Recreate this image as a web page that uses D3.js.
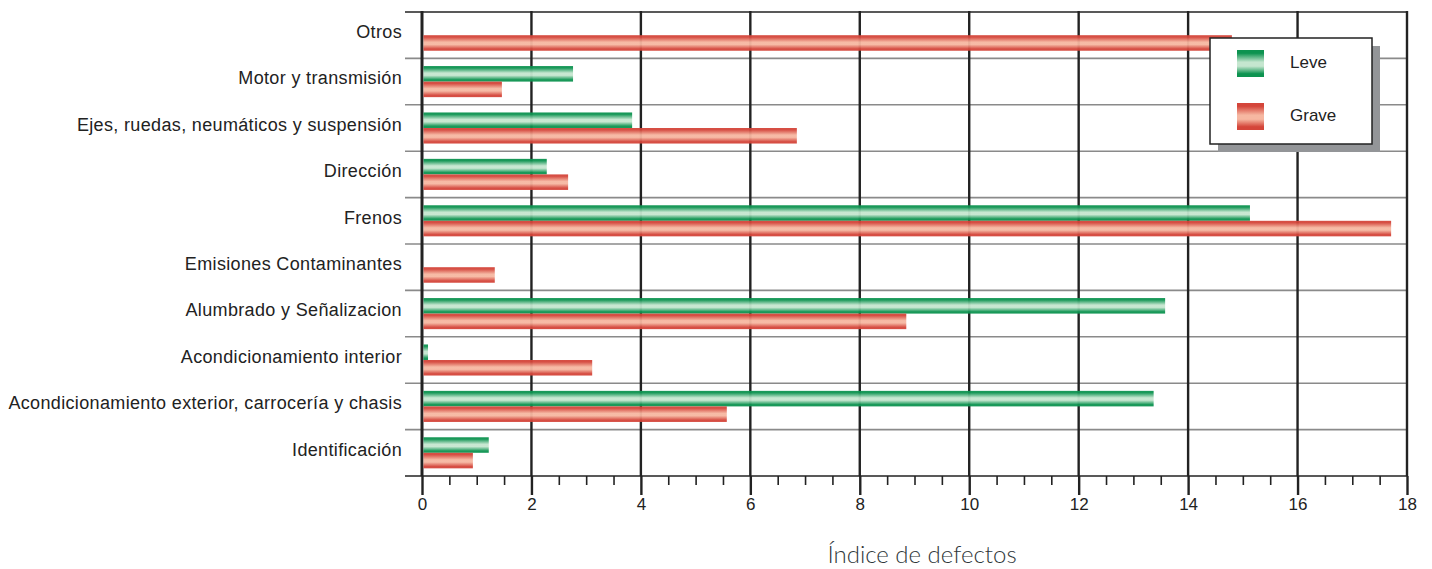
<!DOCTYPE html>
<html><head><meta charset="utf-8">
<script src="https://cdn.jsdelivr.net/npm/d3@7"></script>
<style>
body{margin:0;background:#fff;}
svg{display:block;}
.sans{font-family:"Liberation Sans", Arial, Helvetica, sans-serif;}
</style></head>
<body>
<svg id="chart" width="1432" height="569"></svg>
<script>
const categories = ["Otros","Motor y transmisión","Ejes, ruedas, neumáticos y suspensión","Dirección","Frenos","Emisiones Contaminantes","Alumbrado y Señalizacion","Acondicionamiento interior","Acondicionamiento exterior, carrocería y chasis","Identificación"];
const leve  = [0, 2.76, 3.84, 2.28, 15.13, 0, 13.58, 0.11, 13.37, 1.22];
const grave = [14.8, 1.46, 6.85, 2.67, 17.71, 1.33, 8.85, 3.11, 5.57, 0.93];
const seriesNames = ["Leve","Grave"];
const xTicks = [0,2,4,6,8,10,12,14,16,18];
const axisTitle = "Índice de defectos";

const svg = d3.select("#chart");
const x = d3.scaleLinear().domain([0,18]).range([422,1407]);
const y = d3.scaleBand().domain(categories).range([12,476]).paddingInner(0);
const barH = y.bandwidth()*0.335;

const defs = svg.append("defs");
function grad(id, edge, mid){
  const g = defs.append("linearGradient").attr("id",id).attr("x1",0).attr("y1",0).attr("x2",0).attr("y2",1);
  [[0,edge],[0.12,edge],[0.45,mid],[0.6,mid],[0.88,edge],[1,edge]].forEach(([o,c])=>g.append("stop").attr("offset",o).attr("stop-color",c));
}
grad("gGreen","#0d9350","#c5e6cf");
grad("gRed","#d4453a","#f6b7a1");

const seps = d3.range(categories.length).slice(1).map(i=>y(categories[i]));
svg.append("g").selectAll("line").data(seps).join("line")
  .attr("x1",405).attr("x2",1407).attr("y1",d=>d).attr("y2",d=>d)
  .attr("stroke","#8a8a8a").attr("stroke-width",1.6);
svg.append("line").attr("x1",405).attr("x2",1407).attr("y1",12).attr("y2",12).attr("stroke","#222").attr("stroke-width",1.6);

svg.append("g").selectAll("line").data(xTicks).join("line")
  .attr("x1",d=>x(d)).attr("x2",d=>x(d)).attr("y1",11).attr("y2",476)
  .attr("stroke","#222").attr("stroke-width",d=>d===0?3:2.4);

const gb = svg.append("g");
categories.forEach((c,i)=>{
  const cy = y(c)+y.bandwidth()/2;
  if(leve[i]>0) gb.append("rect").attr("x",x(0)+1.5).attr("y",cy-barH).attr("width",x(leve[i])-x(0)-1.5).attr("height",barH).attr("fill","url(#gGreen)").attr("opacity",0.95);
  if(grave[i]>0) gb.append("rect").attr("x",x(0)+1.5).attr("y",cy).attr("width",x(grave[i])-x(0)-1.5).attr("height",barH).attr("fill","url(#gRed)").attr("opacity",0.95);
});

svg.append("g").selectAll("text").data(categories).join("text")
  .attr("class","sans")
  .attr("x",402).attr("y",d=>y(d)+y.bandwidth()/2-2)
  .attr("text-anchor","end").attr("dominant-baseline","middle")
  .attr("font-size",18).attr("letter-spacing",0.35).attr("fill","#222")
  .text(d=>d);

const axis = d3.axisBottom(x).tickValues(d3.range(0,18.01,0.5)).tickSize(9).tickFormat(d=>xTicks.includes(d)?d:"");
const ga = svg.append("g").attr("transform","translate(0,476)").call(axis);
ga.attr("font-family",null).attr("font-size",null);
ga.select(".domain").attr("d",`M405,0H${x(18)}`).attr("stroke","#222").attr("stroke-width",1.6);
ga.selectAll(".tick line").attr("stroke","#222").attr("stroke-width",d=>xTicks.includes(d)?2.4:1.6).attr("y2",d=>xTicks.includes(d)?19:9);
ga.selectAll(".tick text").attr("class","sans").attr("y",22).attr("font-size",17).attr("fill","#222");

svg.append("text").attr("x",922).attr("y",563).attr("text-anchor","middle")
  .attr("font-family","Lato, 'Open Sans', sans-serif").attr("font-weight",300).attr("font-size",24).attr("fill","#2f373a")
  .text(axisTitle);

const lg = svg.append("g");
lg.append("rect").attr("x",1218).attr("y",46).attr("width",162).attr("height",106).attr("fill","#939598");
lg.append("rect").attr("x",1210).attr("y",38).attr("width",162).attr("height",106).attr("fill","#fff").attr("stroke","#222").attr("stroke-width",1.5);
seriesNames.forEach((s,i)=>{
  const ly = 50+i*53;
  lg.append("rect").attr("x",1237).attr("y",ly).attr("width",27).attr("height",27).attr("fill",i===0?"url(#gGreen)":"url(#gRed)");
  lg.append("text").attr("class","sans").attr("x",1290).attr("y",ly+14).attr("dominant-baseline","middle")
    .attr("font-size",17).attr("fill","#222").text(s);
});
</script>
</body></html>
